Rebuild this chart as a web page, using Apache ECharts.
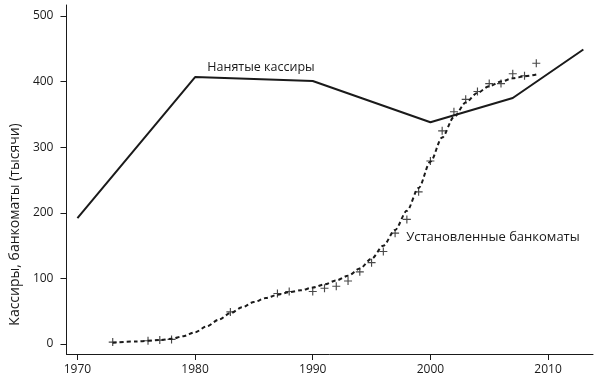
<!DOCTYPE html>
<html>
<head>
<meta charset="utf-8">
<script src="https://cdn.jsdelivr.net/npm/echarts@6/dist/echarts.min.js"></script>
<style>html,body{margin:0;padding:0;background:#fff}#c{width:599px;height:382px}</style>
</head>
<body>
<div id="c"></div>
<script>
// Tellers (thousands)
var tellerYears = [1970, 1980, 1990, 2000, 2007, 2013];
var tellerValues = [192, 407, 401, 338, 375, 449];

// ATM observations (thousands)
var atmYears = [1973, 1976, 1977, 1978, 1983, 1987, 1988, 1990, 1991, 1992, 1993, 1994, 1995, 1996, 1997, 1998, 1999, 2000, 2001, 2002, 2003, 2004, 2005, 2006, 2007, 2008, 2009];
var atmValues = [3, 5, 6, 7, 49, 77, 80, 80, 85, 88, 96, 110, 124, 141, 169, 190, 232, 279, 325, 354, 373, 385, 397, 397, 412, 409, 428];

// ATM smoothed trend (thousands)
var trendYears = [1973, 1975, 1977, 1978, 1979, 1980, 1981, 1982, 1983, 1984, 1985, 1986, 1987, 1988, 1989, 1990, 1991, 1992, 1993, 1994, 1995, 1996, 1997, 1998, 1999, 2000, 2001, 2002, 2003, 2004, 2005, 2006, 2007, 2008, 2009];
var trendValues = [2, 4, 6, 8, 12, 18, 27, 37, 47, 56, 64, 70, 75, 79, 82, 86, 91, 97, 104, 115, 130, 150, 174, 203, 238, 278, 315, 346, 368, 383, 393, 400, 405, 408, 411];

var xTicks = [1970, 1980, 1990, 2000, 2010];
var yTicks = [0, 100, 200, 300, 400, 500];

var yAxisName = 'Кассиры, банкоматы (тысячи)';
var tellerLabel = 'Нанятые кассиры';
var atmLabel = 'Установленные банкоматы';

function zip(a, b) { return a.map(function (v, i) { return [v, b[i]]; }); }

var FONT = 'Open Sans';
var INK = '#1a1a1a';

var chart = echarts.init(document.getElementById('c'), null, { renderer: 'canvas' });
chart.setOption({
  animation: false,
  backgroundColor: '#fff',
  textStyle: { fontFamily: FONT },
  grid: { left: 66, right: 6, top: 5, bottom: 28 },
  xAxis: {
    type: 'value',
    min: 1969.07,
    max: 2013.82,
    axisLine: { show: true, onZero: false, lineStyle: { color: INK, width: 1 } },
    axisTick: { show: true, length: 6, customValues: xTicks, lineStyle: { color: INK } },
    axisLabel: { customValues: xTicks, color: INK, fontSize: 12, fontFamily: FONT, margin: 10, formatter: function (v) { return String(v); } },
    splitLine: { show: false }
  },
  yAxis: {
    type: 'value',
    min: -15.2,
    max: 516.8,
    name: yAxisName,
    nameLocation: 'middle',
    nameRotate: 90,
    nameGap: 44,
    nameTextStyle: { color: INK, fontSize: 14, fontFamily: FONT, padding: [0, 90, 0, 0] },
    axisLine: { show: true, onZero: false, lineStyle: { color: INK, width: 1 } },
    axisTick: { show: true, length: 6, customValues: yTicks, lineStyle: { color: INK } },
    axisLabel: { customValues: yTicks, color: INK, fontSize: 12, fontFamily: FONT, margin: 13 },
    splitLine: { show: false }
  },
  series: [
    {
      type: 'line',
      data: zip(tellerYears, tellerValues),
      symbol: 'none',
      lineStyle: { color: INK, width: 2 },
      markPoint: {
        symbol: 'circle', symbolSize: 1, itemStyle: { color: 'rgba(0,0,0,0)' },
        label: { show: true, position: 'inside', align: 'left', verticalAlign: 'middle', color: INK, fontSize: 12.5, fontFamily: FONT, formatter: function () { return tellerLabel; } },
        data: [{ coord: [1981.04, 422] }]
      }
    },
    {
      type: 'line',
      data: zip(trendYears, trendValues),
      symbol: 'none',
      smooth: 0.3,
      smoothMonotone: 'x',
      lineStyle: { color: INK, width: 2, type: [4, 3] },
      markPoint: {
        symbol: 'circle', symbolSize: 1, itemStyle: { color: 'rgba(0,0,0,0)' },
        label: { show: true, position: 'inside', align: 'left', verticalAlign: 'middle', color: INK, fontSize: 13, fontFamily: FONT, formatter: function () { return atmLabel; } },
        data: [{ coord: [1997.94, 163] }]
      }
    },
    {
      type: 'scatter',
      data: zip(atmYears, atmValues),
      symbol: 'path://M0,3H3V0H4V3H7V4H4V7H3V4H0Z',
      symbolSize: 8,
      itemStyle: { color: INK }
    }
  ]
});
</script>
</body>
</html>
